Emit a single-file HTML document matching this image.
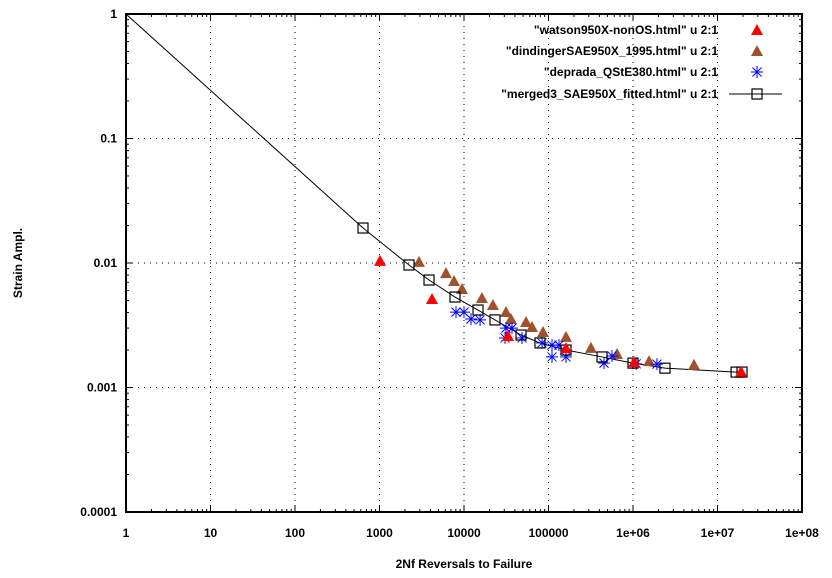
<!DOCTYPE html>
<html><head><meta charset="utf-8"><style>
html,body{margin:0;padding:0;background:#fff;}
svg{display:block;font-family:"Liberation Sans",sans-serif;}
</style></head><body>
<svg id="chart" width="832" height="578" viewBox="0 0 832 578">
<g id="grid"></g>
<g id="axes"></g>
<g id="series"></g>
<g id="legend"></g>
<text x="464" y="568" text-anchor="middle" font-size="12" font-weight="bold">2Nf  Reversals to Failure</text>
<text transform="translate(22,263) rotate(-90)" text-anchor="middle" font-size="12" font-weight="bold">Strain Ampl.</text>
</svg>
<script>
const xTicks=[1,10,100,1000,10000,100000,1e6,1e7,1e8];
const xTickLabels=["1","10","100","1000","10000","100000","1e+06","1e+07","1e+08"];
const yTicks=[1,0.1,0.01,0.001,0.0001];
const yTickLabels=["1","0.1","0.01","0.001","0.0001"];
const watsonX=[1014,4180,33200,161000,1.03e6,1.9e7];
const watsonY=[0.0104,0.00514,0.00259,0.00207,0.0016,0.00134];
const dindX=[2932,6120,7620,9470,16300,22000,31400,36000,54200,63800,86100,161000,318000,647000,1.55e6,5.27e6];
const dindY=[0.0102,0.0083,0.00717,0.00618,0.00523,0.0046,0.00404,0.00355,0.00336,0.00306,0.00279,0.00255,0.00208,0.00186,0.00163,0.00152];
const depX=[8040,10000,12100,15500,31400,37000,30600,48600,83800,110000,110000,161000,133000,454000,564000,1.09e6,1.92e6];
const depY=[0.00403,0.00403,0.00355,0.00349,0.0030,0.0030,0.0025,0.0025,0.00228,0.00219,0.00176,0.00176,0.00219,0.00157,0.00179,0.00155,0.00154];
const mergedX=[638,2234,3855,7820,14650,23270,47300,79300,161000,430000,1e6,2.39e6,1.66e7,1.95e7];
const mergedY=[0.0191,0.00964,0.0073,0.00533,0.00419,0.00349,0.00264,0.00228,0.0020,0.00176,0.00157,0.00143,0.00133,0.00133];
const lineStartX=1, lineStartY=1;

const L=126,R=802,T=14,B=512;
const xs=v=>L+(Math.log10(v)-0)/8*(R-L);
const ys=v=>T+(0-Math.log10(v))/4*(B-T);
const NS="http://www.w3.org/2000/svg";
function mk(tag,attrs,parent){const e=document.createElementNS(NS,tag);for(const k in attrs)e.setAttribute(k,attrs[k]);parent.appendChild(e);return e;}
const grid=document.getElementById('grid'),axes=document.getElementById('axes'),series=document.getElementById('series'),legend=document.getElementById('legend');

xTicks.forEach((v,i)=>{
  const x=xs(v);
  if(i>0&&i<xTicks.length-1){const g=mk('line',{x1:x,x2:x,y1:T,y2:B,stroke:'#000','stroke-width':1,'stroke-dasharray':'1,5'},grid);
  
  }
  const t=mk('text',{x:x,y:B+25,'text-anchor':'middle','font-size':12,'font-weight':'bold'},axes);t.textContent=xTickLabels[i];
  
  
  [T,B].forEach(yy=>{mk('line',{x1:x,x2:x,y1:yy,y2:yy+(yy==T?7:-7),stroke:'#000'},axes);});
  if(i<xTicks.length-1)for(let m=2;m<10;m++){const xm=xs(v*m);[T,B].forEach(yy=>mk('line',{x1:xm,x2:xm,y1:yy,y2:yy+(yy==T?3:-3),stroke:'#000'},axes));}
});
yTicks.forEach((v,i)=>{
  const y=ys(v);
  if(i>0&&i<yTicks.length-1){const g=mk('line',{x1:L,x2:R,y1:y,y2:y,stroke:'#000','stroke-width':1,'stroke-dasharray':'1,5'},grid);
  
  }
  const t=mk('text',{x:L-9,y:y+4,'text-anchor':'end','font-size':12,'font-weight':'bold'},axes);t.textContent=yTickLabels[i];
  
  
  [L,R].forEach(xx=>mk('line',{x1:xx,x2:xx+(xx==L?7:-7),y1:y,y2:y,stroke:'#000'},axes));
  if(i<yTicks.length-1)for(let m=2;m<10;m++){const ym=ys(v/10*m);[L,R].forEach(xx=>mk('line',{x1:xx,x2:xx+(xx==L?3:-3),y1:ym,y2:ym,stroke:'#000'},axes));}
});
const frame=mk('rect',{x:L,y:T,width:R-L,height:B-T,fill:'none',stroke:'#000','stroke-width':2},axes);



function tri(cx,cy,col,p){const e=mk('path',{d:`M${cx-6},${cy+5}L${cx+6},${cy+5}L${cx},${cy-6}Z`,fill:col},p);return e;}
function star(cx,cy,p){const g=mk('g',{stroke:'#0000ff','stroke-width':1},p);
  mk('line',{x1:cx-6,x2:cx+6,y1:cy,y2:cy},g);mk('line',{x1:cx,x2:cx,y1:cy-6,y2:cy+6},g);
  mk('line',{x1:cx-4.5,x2:cx+4.5,y1:cy-4.5,y2:cy+4.5},g);mk('line',{x1:cx-4.5,x2:cx+4.5,y1:cy+4.5,y2:cy-4.5},g);return g;}
function sq(cx,cy,p){return mk('rect',{x:cx-5,y:cy-5,width:10,height:10,fill:'none',stroke:'#000','stroke-width':1.2},p);}

let d=`M${xs(lineStartX)},${ys(lineStartY)}`;
mergedX.forEach((v,i)=>{d+=`L${xs(v)},${ys(mergedY[i])}`;});
const ml=mk('path',{d:d,fill:'none',stroke:'#000','stroke-width':1},series);



dindX.forEach((v,i)=>{const e=tri(xs(v),ys(dindY[i]),'#a0522d',series);
  
  });
depX.forEach((v,i)=>{const e=star(xs(v),ys(depY[i]),series);
  
  });
mergedX.forEach((v,i)=>{const e=sq(xs(v),ys(mergedY[i]),series);
  
  });
watsonX.forEach((v,i)=>{const e=tri(xs(v),ys(watsonY[i]),'#ff0000',series);
  
  });

const legLabels=['"watson950X-nonOS.html" u 2:1','"dindingerSAE950X_1995.html" u 2:1','"deprada_QStE380.html" u 2:1','"merged3_SAE950X_fitted.html" u 2:1'];
const legY=[30,51,72,94];
legLabels.forEach((s,i)=>{
  const t=mk('text',{x:718,y:legY[i]+4,'text-anchor':'end','font-size':12,'font-weight':'bold'},legend);t.textContent=s;
  
  
});
tri(757,legY[0],'#ff0000',legend);
tri(757,legY[1],'#a0522d',legend);
star(757,legY[2],legend);
mk('line',{x1:729,x2:782,y1:legY[3],y2:legY[3],stroke:'#000'},legend);
sq(757,legY[3],legend);
</script>
</body></html>
